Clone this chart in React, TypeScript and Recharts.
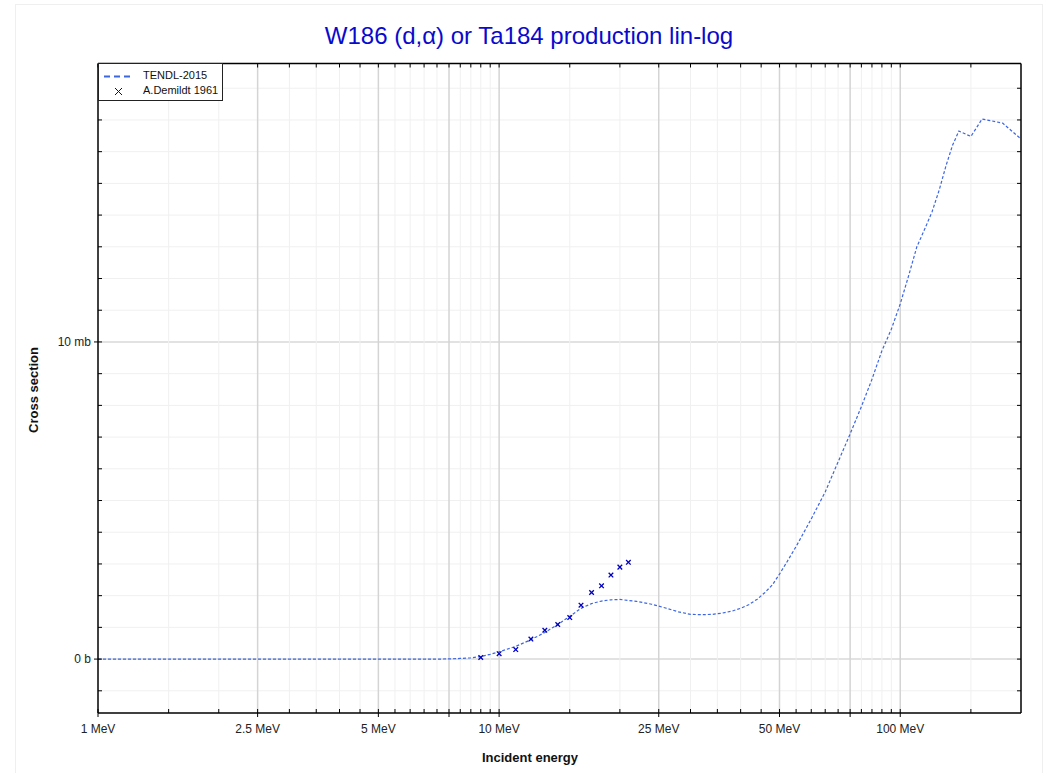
import React from 'react';
import { ComposedChart, Line, Scatter, XAxis, YAxis, ReferenceLine } from 'recharts';

// TENDL-2015 evaluation, energy in MeV, cross section in mb
const TENDL_E = [
  1, 2, 3, 4, 5, 6, 7, 7.5, 8, 8.5, 9, 9.5, 10, 11, 12, 13, 14, 15, 16, 17, 18, 19, 20,
  22, 24, 26, 28, 30, 32, 34, 36, 38, 40, 42, 44, 46, 48, 50, 52, 55, 60, 65, 70, 75, 80,
  85, 90, 95, 100, 105, 110, 115, 120, 125, 130, 135, 140, 150, 160, 180, 200,
];
const TENDL_XS = [
  0, 0, 0, 0, 0, 0, 0, 0.005, 0.02, 0.04, 0.08, 0.15, 0.23, 0.4, 0.61, 0.84, 1.09, 1.35, 1.6,
  1.75, 1.83, 1.87, 1.88, 1.82, 1.73, 1.61, 1.49, 1.41, 1.4, 1.41, 1.45, 1.51, 1.6, 1.72,
  1.89, 2.1, 2.34, 2.68, 3.03, 3.55, 4.42, 5.27, 6.22, 7.1, 7.96, 8.82, 9.72, 10.4, 11.2,
  12.1, 13.0, 13.55, 14.1, 14.78, 15.55, 16.2, 16.65, 16.48, 17.03, 16.9, 16.4,
];

// A.Demildt 1961 measurements
const EXP_E = [9, 10, 11, 12, 13, 14, 15, 16, 17, 18, 19, 20, 21];
const EXP_XS = [0.05, 0.17, 0.3, 0.63, 0.91, 1.09, 1.31, 1.7, 2.1, 2.31, 2.65, 2.9, 3.05];

// axes
const X_TICKS = [
  1, 1.5, 2, 2.5, 3, 3.5, 4, 4.5, 5, 5.5, 6, 6.5, 7, 7.5, 8, 8.5, 9, 9.5, 10, 15, 20, 25,
  30, 35, 40, 45, 50, 55, 60, 65, 70, 75, 80, 85, 90, 95, 100, 150,
];
const X_LABELED = [1, 2.5, 5, 10, 25, 50, 100];
const X_LABELS = ['1 MeV', '2.5 MeV', '5 MeV', '10 MeV', '25 MeV', '50 MeV', '100 MeV'];
const X_MID = [7.5, 75];
const Y_TICKS = [-1, 0, 1, 2, 3, 4, 5, 6, 7, 8, 9, 10, 11, 12, 13, 14, 15, 16, 17, 18];
const Y_LABELED = [0, 10];
const Y_LABELS = ['0 b', '10 mb'];

const tendl = TENDL_E.map((e, i) => ({ e, xs: TENDL_XS[i] }));
const demildt = EXP_E.map((e, i) => ({ e, xs: EXP_XS[i] }));

const FONT = '"Liberation Sans", Arial, Helvetica, sans-serif';
const LINE_BLUE = '#3d66e3';
const MARK_BLUE = '#0000b8';

function BottomTick({ x, y, payload }: any) {
  const v = payload.value;
  const i = X_LABELED.indexOf(v);
  const long = i >= 0 || X_MID.includes(v);
  return (
    <g>
      <line x1={x} x2={x} y1={y - 4} y2={long ? y + 4 : y} stroke="#000" strokeWidth={1} />
      {i >= 0 && (
        <text x={x} y={y + 20} textAnchor="middle" fontSize={12} fill="#222" fontFamily={FONT}>
          {X_LABELS[i]}
        </text>
      )}
    </g>
  );
}

function TopTick({ x, y }: any) {
  return <line x1={x} x2={x} y1={y} y2={y + 4} stroke="#000" strokeWidth={1} />;
}

function LeftTick({ x, y, payload }: any) {
  const i = Y_LABELED.indexOf(payload.value);
  return (
    <g>
      <line x1={i >= 0 ? x - 4 : x} x2={x + 4} y1={y} y2={y} stroke="#000" strokeWidth={1} />
      {i >= 0 && (
        <text x={x - 7} y={y + 4} textAnchor="end" fontSize={12} fill="#222" fontFamily={FONT}>
          {Y_LABELS[i]}
        </text>
      )}
    </g>
  );
}

function RightTick({ x, y }: any) {
  return <line x1={x - 4} x2={x} y1={y} y2={y} stroke="#000" strokeWidth={1} />;
}

function Cross({ cx, cy }: any) {
  if (cx == null || cy == null) return null;
  const r = 2.3;
  return (
    <g stroke={MARK_BLUE} strokeWidth={1.3}>
      <line x1={cx - r} y1={cy - r} x2={cx + r} y2={cy + r} />
      <line x1={cx - r} y1={cy + r} x2={cx + r} y2={cy - r} />
    </g>
  );
}

export default function App() {
  const axisLine = { stroke: '#000', strokeWidth: 1.5 };
  return (
    <div
      style={{
        position: 'absolute',
        left: 0,
        top: 0,
        width: 1049,
        height: 773,
        overflow: 'hidden',
        background: '#fff',
        fontFamily: FONT,
      }}
    >
      <div
        style={{
          position: 'absolute',
          left: 15,
          top: 4,
          width: 1026,
          height: 800,
          border: '1px solid #efefef',
        }}
      />
      <ComposedChart
        width={1049}
        height={773}
        margin={{ top: 62.5, right: 0, bottom: 0, left: 0 }}
        style={{ position: 'absolute', left: 0, top: 0 }}
      >
        <XAxis
          dataKey="e"
          type="number"
          scale="log"
          domain={[1, 200]}
          allowDataOverflow
          ticks={X_TICKS}
          interval={0}
          height={60}
          tickSize={0}
          tickMargin={0}
          tickLine={false}
          axisLine={axisLine}
          tick={<BottomTick />}
        />
        <XAxis
          xAxisId="top"
          orientation="top"
          dataKey="e"
          type="number"
          scale="log"
          domain={[1, 200]}
          allowDataOverflow
          ticks={X_TICKS}
          interval={0}
          height={1}
          tickSize={0}
          tickMargin={0}
          tickLine={false}
          axisLine={axisLine}
          tick={<TopTick />}
        />
        <YAxis
          type="number"
          domain={[-1.7, 18.78]}
          allowDataOverflow
          ticks={Y_TICKS}
          interval={0}
          width={98}
          tickSize={0}
          tickMargin={0}
          tickLine={false}
          axisLine={axisLine}
          tick={<LeftTick />}
        />
        <YAxis
          yAxisId="r"
          orientation="right"
          type="number"
          domain={[-1.7, 18.78]}
          allowDataOverflow
          ticks={Y_TICKS}
          interval={0}
          width={28}
          tickSize={0}
          tickMargin={0}
          tickLine={false}
          axisLine={axisLine}
          tick={<RightTick />}
        />

        {Y_TICKS.map((v) => (
          <ReferenceLine
            key={'h' + v}
            y={v}
            stroke={Y_LABELED.includes(v) ? '#d8d8d8' : '#f0f0f0'}
            strokeWidth={Y_LABELED.includes(v) ? 1.5 : 1}
          />
        ))}
        {X_TICKS.filter((v) => v > 1).map((v) => (
          <ReferenceLine
            key={'v' + v}
            x={v}
            stroke={X_LABELED.includes(v) || X_MID.includes(v) ? '#d4d4d4' : '#f0f0f0'}
            strokeWidth={X_LABELED.includes(v) || X_MID.includes(v) ? 1.5 : 1}
          />
        ))}

        <Line
          data={tendl}
          dataKey="xs"
          type="linear"
          stroke={LINE_BLUE}
          strokeWidth={1.2}
          strokeDasharray="3 2"
          dot={false}
          activeDot={false}
          isAnimationActive={false}
        />
        <Scatter data={demildt} dataKey="xs" shape={<Cross />} isAnimationActive={false} />
      </ComposedChart>

      <svg
        width={1049}
        height={773}
        style={{ position: 'absolute', left: 0, top: 0, pointerEvents: 'none' }}
      >
        <text x={529} y={44} textAnchor="middle" fontSize={24} fill="#0a0acc" fontFamily={FONT}>
          W186 (d,α) or Ta184 production lin-log
        </text>
        <text
          x={530}
          y={762}
          textAnchor="middle"
          fontSize={13}
          fontWeight="bold"
          fill="#111"
          fontFamily={FONT}
        >
          Incident energy
        </text>
        <text
          transform="translate(38,390) rotate(-90)"
          textAnchor="middle"
          fontSize={13}
          fontWeight="bold"
          fill="#111"
          fontFamily={FONT}
        >
          Cross section
        </text>
      </svg>

      <div
        style={{
          position: 'absolute',
          left: 98,
          top: 63,
          width: 123,
          height: 36,
          border: '1px solid #222',
          background: '#fff',
          fontSize: 11,
          color: '#111',
        }}
      >
        <svg width={40} height={36} style={{ position: 'absolute', left: 0, top: 0 }}>
          <line x1={5} x2={31} y1={12.5} y2={12.5} stroke={LINE_BLUE} strokeWidth={2} strokeDasharray="6 4" />
          <line x1={16} y1={24} x2={23} y2={31} stroke={MARK_BLUE} strokeWidth={1} />
          <line x1={16} y1={31} x2={23} y2={24} stroke={MARK_BLUE} strokeWidth={1} />
        </svg>
        <div style={{ position: 'absolute', left: 44, top: 5, lineHeight: '13px' }}>TENDL-2015</div>
        <div style={{ position: 'absolute', left: 44, top: 20, lineHeight: '13px' }}>A.Demildt 1961</div>
      </div>
    </div>
  );
}
